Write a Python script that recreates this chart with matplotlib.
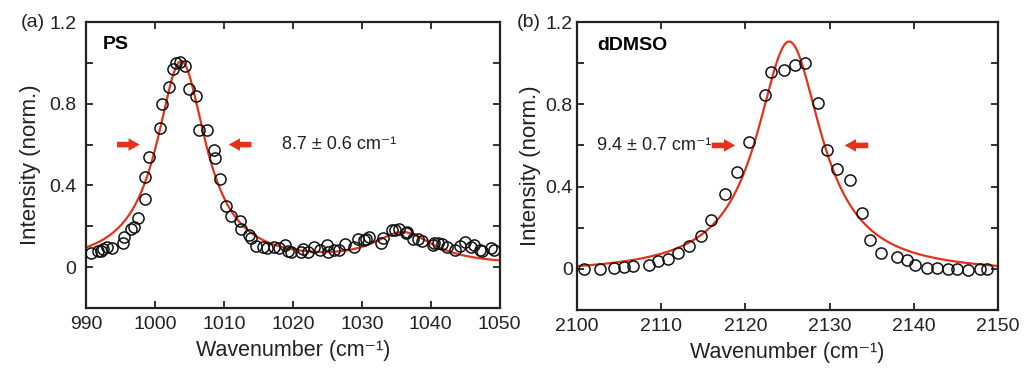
import numpy as np
import matplotlib.pyplot as plt
from matplotlib.ticker import MultipleLocator, FixedFormatter, FixedLocator

plt.rcParams['font.family'] = ['Liberation Sans', 'DejaVu Sans']

# ---- data ----
ps_x = [990.7, 991.7, 992.2, 992.5, 993.1, 993.7, 995.4, 995.5, 996.5, 996.9,
        997.6, 998.6, 998.5, 999.2, 1000.7, 1001.0, 1002.1, 1002.6, 1003.0, 1003.6,
        1004.4, 1004.9, 1005.9, 1006.4, 1007.5, 1008.5, 1008.7, 1009.5, 1010.3, 1011.0,
        1012.3, 1012.5, 1013.6, 1013.9, 1014.6, 1015.6, 1016.3, 1017.3, 1018.0, 1018.8,
        1019.3, 1019.7, 1021.2, 1021.4, 1022.2, 1023.0, 1023.9, 1024.9, 1025.1, 1026.0,
        1026.7, 1027.6, 1028.9, 1029.4, 1030.3, 1030.6, 1031.1, 1032.8, 1033.1, 1034.4,
        1034.8, 1035.4, 1036.4, 1036.5, 1037.4, 1038.1, 1038.7, 1040.3, 1040.5, 1041.0,
        1041.6, 1042.4, 1043.5, 1044.3, 1045.0, 1045.9, 1046.3, 1047.1, 1047.4, 1048.8,
        1049.1]
ps_y = [0.069, 0.077, 0.077, 0.088, 0.100, 0.093, 0.120, 0.147, 0.186, 0.199,
        0.240, 0.333, 0.439, 0.540, 0.683, 0.800, 0.880, 0.969, 1.000, 1.005,
        0.985, 0.873, 0.839, 0.669, 0.669, 0.574, 0.533, 0.432, 0.300, 0.250,
        0.227, 0.186, 0.158, 0.145, 0.104, 0.100, 0.093, 0.100, 0.093, 0.110,
        0.080, 0.073, 0.073, 0.090, 0.073, 0.098, 0.085, 0.109, 0.073, 0.086,
        0.086, 0.111, 0.100, 0.139, 0.134, 0.137, 0.147, 0.120, 0.145, 0.183,
        0.180, 0.186, 0.166, 0.171, 0.137, 0.137, 0.130, 0.109, 0.120, 0.120,
        0.111, 0.100, 0.085, 0.104, 0.122, 0.100, 0.109, 0.085, 0.077, 0.093,
        0.082]

dmso_x = [2100.8, 2102.7, 2104.4, 2105.6, 2106.7, 2108.5, 2109.6, 2110.8, 2112.0, 2113.3,
          2114.7, 2115.9, 2117.6, 2119.0, 2120.4, 2122.3, 2123.1, 2124.6, 2125.9, 2127.1,
          2128.6, 2129.7, 2130.9, 2132.4, 2133.9, 2134.8, 2136.1, 2138.0, 2139.2, 2140.2,
          2141.6, 2142.8, 2144.1, 2145.2, 2146.4, 2147.9, 2148.7]
dmso_y = [0.000, 0.000, 0.006, 0.010, 0.013, 0.020, 0.037, 0.048, 0.076, 0.111,
          0.161, 0.237, 0.366, 0.471, 0.616, 0.847, 0.958, 0.968, 0.992, 1.000,
          0.805, 0.579, 0.487, 0.431, 0.269, 0.140, 0.079, 0.056, 0.044, 0.019,
          0.003, 0.003, 0.000, -0.003, -0.005, -0.003, -0.003]

# Lorentzian fit parameters (center, FWHM, amplitude)
ps_fit = dict(c1=1003.8, w1=8.7, a1=1.0, c2=1036.0, w2=11.0, a2=0.15, base=0.004)
dmso_fit = dict(c=2125.2, w=9.4, a=1.13, base=-0.025)

ps_label = '8.7 ± 0.6 cm\u207b\u00b9'
dmso_label = '9.4 ± 0.7 cm\u207b\u00b9'

red = '#e4321b'
ink = '#222222'


def lorentz(x, c, w, a):
    return a / (1 + ((x - c) / (w / 2)) ** 2)


def style_axes(ax, xlim, xstep, ypad, ylabpad):
    ax.set_xlim(*xlim)
    ax.set_ylim(-0.2, 1.2)
    ax.xaxis.set_major_locator(MultipleLocator(xstep))
    ax.yaxis.set_major_locator(FixedLocator([-0.2, 0, 0.2, 0.4, 0.6, 0.8, 1.0, 1.2]))
    ax.yaxis.set_major_formatter(FixedFormatter(['', '0', '', '0.4', '', '0.8', '', '1.2']))
    ax.tick_params(direction='in', top=True, right=True, length=5, width=1.3,
                   labelsize=14, colors=ink, pad=6)
    ax.tick_params(axis='y', pad=ypad)
    for s in ax.spines.values():
        s.set_linewidth(1.6)
        s.set_color(ink)
    ax.set_xlabel('Wavenumber (cm\u207b\u00b9)', fontsize=15.5, color=ink, labelpad=5)
    ax.set_ylabel('Intensity (norm.)', fontsize=16, color=ink, labelpad=ylabpad)


def arrow(ax, x0, x1, y):
    ax.annotate('', xy=(x1, y), xytext=(x0, y),
                arrowprops=dict(arrowstyle='simple,head_width=1.0,head_length=0.9,tail_width=0.45',
                                color=red, lw=0, shrinkA=0, shrinkB=0,
                                mutation_scale=9))


fig = plt.figure(figsize=(10.24, 3.86), dpi=100)
ax1 = fig.add_axes([0.084, 0.202, 0.404, 0.741])
ax2 = fig.add_axes([0.5635, 0.197, 0.411, 0.746])

# panel (a)
xf = np.linspace(990, 1050, 600)
yf = (lorentz(xf, ps_fit['c1'], ps_fit['w1'], ps_fit['a1'])
      + lorentz(xf, ps_fit['c2'], ps_fit['w2'], ps_fit['a2']) + ps_fit['base'])
ax1.plot(xf, yf, color=red, lw=1.6, zorder=2)
ax1.plot(ps_x, ps_y, 'o', mfc='none', mec='#111111', ms=8, mew=1.1, zorder=3)
style_axes(ax1, (990, 1050), 10, 7, 6)
ax1.text(0.04, 0.92, 'PS', transform=ax1.transAxes, fontsize=14, fontweight='bold',
         va='center', ha='left')
ax1.text(1018.4, 0.6, ps_label, fontsize=13, va='center', ha='left', color=ink)
arrow(ax1, 994.5, 997.8, 0.6)
arrow(ax1, 1014.0, 1010.7, 0.6)
fig.text(0.02, 0.943, '(a)', fontsize=14, va='center', ha='left', color=ink)

# panel (b)
xf2 = np.linspace(2100, 2150, 600)
yf2 = lorentz(xf2, dmso_fit['c'], dmso_fit['w'], dmso_fit['a']) + dmso_fit['base']
ax2.plot(xf2, yf2, color=red, lw=1.6, zorder=2)
ax2.plot(dmso_x, dmso_y, 'o', mfc='none', mec='#111111', ms=8, mew=1.1, zorder=3)
style_axes(ax2, (2100, 2150), 10, 3, 3)
ax2.text(0.047, 0.92, 'dDMSO', transform=ax2.transAxes, fontsize=14, fontweight='bold',
         va='center', ha='left')
ax2.text(2102.4, 0.6, dmso_label, fontsize=13, va='center', ha='left', color=ink)
arrow(ax2, 2116.0, 2118.8, 0.6)
arrow(ax2, 2134.6, 2131.8, 0.6)
fig.text(0.505, 0.943, '(b)', fontsize=14, va='center', ha='left', color=ink)

fig.savefig('out.png', dpi=100)
